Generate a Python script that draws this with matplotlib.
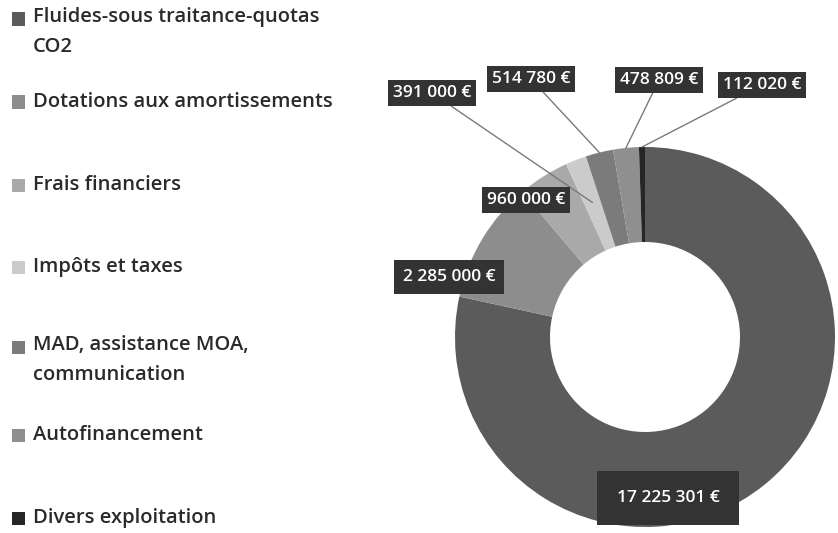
import numpy as np
import matplotlib
matplotlib.use("Agg")
import matplotlib.pyplot as plt
from matplotlib.patches import Rectangle

# -------------------------------
# Data
# -------------------------------
categories = [
    "Fluides-sous traitance-quotas\nCO2",
    "Dotations aux amortissements",
    "Frais financiers",
    "Impôts et taxes",
    "MAD, assistance MOA,\ncommunication",
    "Autofinancement",
    "Divers exploitation",
]
values = [17225301, 2285000, 960000, 391000, 514780, 478809, 112020]
value_labels = ["17 225 301 €", "2 285 000 €", "960 000 €", "391 000 €",
                "514 780 €", "478 809 €", "112 020 €"]

colors = ["#5b5b5b", "#8d8d8d", "#a9a9a9", "#cbcbcb", "#7b7b7b", "#8f8f8f", "#262626"]

W, H = 838, 533
FONT = "Open Sans"

fig = plt.figure(figsize=(W / 100, H / 100), dpi=100, facecolor="white")

# -------------------------------
# Donut
# -------------------------------
cx, cy, R = 645, 337, 190  # pixels
ax = fig.add_axes([(cx - R) / W, (H - cy - R) / H, 2 * R / W, 2 * R / H])
wedges, _ = ax.pie(values, colors=colors, startangle=90, counterclock=False,
                   radius=1.0, wedgeprops=dict(width=0.5, edgecolor="none"))
ax.set_xlim(-1, 1)
ax.set_ylim(-1, 1)
ax.set_aspect("equal")
ax.axis("off")

# data label positions (pixel centres) and leader anchor radius
label_pos = [(668, 498), (449, 277), (526, 200), (432, 93),
             (531, 79), (659, 80), (762, 85)]
label_pad = [1.1, 0.5, 0.3, 0.3, 0.3, 0.3, 0.3]
anchor_r = [None, None, None, 0.76, 1.0, 1.0, 1.0]

total = float(sum(values))
cum = 0.0
for i, v in enumerate(values):
    mid = (cum + v / 2) / total
    cum += v
    ang = np.deg2rad(90 - 360 * mid)
    lx, ly = label_pos[i]
    fx, fy = lx / W, 1 - ly / H
    bbox = dict(boxstyle=f"square,pad={label_pad[i]}", fc="#333333", ec="none")
    if anchor_r[i] is None:
        fig.text(fx, fy, value_labels[i], ha="center", va="center", color="white",
                 fontsize=12.5, fontfamily=FONT, fontweight="semibold", bbox=bbox)
    else:
        r = anchor_r[i]
        ax.annotate(value_labels[i], xy=(r * np.cos(ang), r * np.sin(ang)),
                    xytext=(fx, fy), textcoords="figure fraction",
                    ha="center", va="center", color="white", fontsize=12.5,
                    fontfamily=FONT, fontweight="semibold", bbox=bbox,
                    arrowprops=dict(arrowstyle="-", color="#7a7a7a", lw=1.0,
                                    shrinkA=0, shrinkB=0),
                    annotation_clip=False)

# -------------------------------
# Legend (manual, uneven spacing as in the original)
# -------------------------------
legend_y = [19, 102, 185, 267, 347, 435, 518]
for cat, col, y in zip(categories, colors, legend_y):
    fig.patches.append(Rectangle((12 / W, 1 - (y + 6.5) / H), 13 / W, 13 / H,
                                 transform=fig.transFigure, fc=col, ec="none"))
    if "\n" in cat:
        fig.text(33 / W, 1 - (y - 12) / H, cat, ha="left", va="top",
                 fontsize=14.5, fontfamily=FONT, fontweight="semibold",
                 color="#2a2a2a", linespacing=1.7)
    else:
        fig.text(33 / W, 1 - y / H, cat, ha="left", va="center",
                 fontsize=14.5, fontfamily=FONT, fontweight="semibold",
                 color="#2a2a2a")

fig.savefig("out.png", dpi=100, facecolor="white")
